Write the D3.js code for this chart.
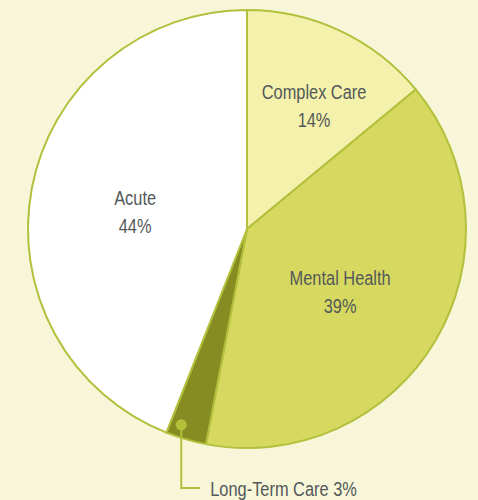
<!DOCTYPE html>
<html><head><meta charset="utf-8">
<script src="https://cdn.jsdelivr.net/npm/d3@7"></script>
<style>
html,body{margin:0;padding:0;background:#f7f6d9;}
svg{display:block;}
text{font-family:"Liberation Sans","Arimo",Arial,sans-serif;fill:#54585a;}
</style></head>
<body>
<svg id="chart" width="478" height="500"></svg>
<script>
const categories = ["Complex Care", "Mental Health", "Long-Term Care", "Acute"];
const values = [14, 39, 3, 44];
const labels = ["14%", "39%", "3%", "44%"];
const colors = ["#f3f1ac", "#d7d860", "#868c22", "#ffffff"];

const W = 478, H = 500;
const cx = 247, cy = 229, R = 219;
const SX = 0.78; // condensed text
const svg = d3.select("#chart");
svg.append("rect").attr("width", W).attr("height", H).attr("fill", "#f7f6d9");

const data = categories.map((c, i) => ({cat: c, value: values[i], label: labels[i], color: colors[i]}));
const pie = d3.pie().value(d => d.value).sort(null);
const arcs = pie(data);
const arc = d3.arc().innerRadius(0).outerRadius(R);

const g = svg.append("g").attr("transform", `translate(${cx},${cy})`);
g.selectAll("path").data(arcs).join("path")
  .attr("d", arc)
  .attr("fill", d => d.data.color)
  .attr("stroke", "#b2c03c")
  .attr("stroke-width", 2)
  .attr("stroke-linejoin", "round");

const labelStyle = {
  "Complex Care": {r: 0.66, dx: 5.5, dy: 4},
  "Mental Health": {r: 0.51, dx: -3, dy: 2.5},
  "Acute": {r: 0.52, dx: 0, dy: 0}
};
function addText(x, y, anchor, lines) {
  const t = g.append("text").attr("text-anchor", anchor).attr("font-size", 21)
    .attr("transform", `translate(${x},${y}) scale(${SX},1)`);
  lines.forEach((s, i) => t.append("tspan").attr("x", 0).attr("y", i * 28).text(s));
  return t;
}
arcs.forEach(a => {
  const st = labelStyle[a.data.cat];
  if (!st) return;
  const mid = (a.startAngle + a.endAngle) / 2;
  const r = R * st.r;
  const x = Math.sin(mid) * r + st.dx, y = -Math.cos(mid) * r + st.dy;
  addText(x, y - 3, "middle", [a.data.cat, a.data.label]);
});

// callout for Long-Term Care
const ltc = arcs[2];
const mid = (ltc.startAngle + ltc.endAngle) / 2;
const rr = R * 0.945;
const px = Math.sin(mid) * rr - 8, py = -Math.cos(mid) * rr - 3;
const lineY = 488 - cy;
g.append("path")
  .attr("d", `M${px},${py} V${lineY} H${px + 19}`)
  .attr("fill", "none").attr("stroke", "#b2c03c").attr("stroke-width", 2);
g.append("circle").attr("cx", px).attr("cy", py).attr("r", 5.5).attr("fill", "#b2c03c");
addText(px + 29, lineY + 8, "start", [ltc.data.cat + " " + ltc.data.label]);
</script>
</body></html>
